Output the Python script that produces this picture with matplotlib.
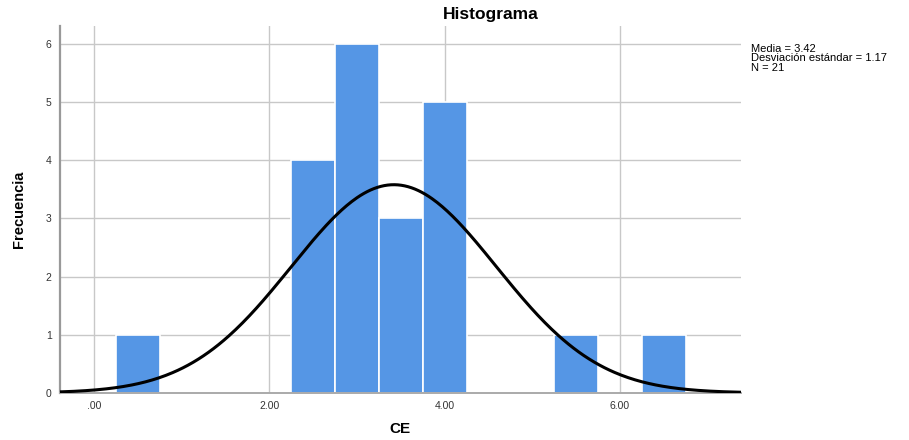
import numpy as np
import matplotlib
matplotlib.use("Agg")
import matplotlib.pyplot as plt

plt.rcParams['font.family'] = ['Liberation Sans', 'DejaVu Sans']

# CE histogram: bin centres (width 0.5) and counts
bin_centers = [0.5, 2.5, 3.0, 3.5, 4.0, 5.5, 6.5]
counts = [1, 4, 6, 3, 5, 1, 1]
bin_width = 0.5

media = 3.42
desv = 1.17
n = 21

x_ticks = [0, 2, 4, 6]
x_labels = ['.00', '2.00', '4.00', '6.00']
y_ticks = [0, 1, 2, 3, 4, 5, 6]

fig = plt.figure(figsize=(9.09, 4.40), dpi=100)
ax = fig.add_axes([0.066, 0.107, 0.749, 0.834])

ax.set_xlim(-0.39, 7.38)
ax.set_ylim(0, 6.31)

ax.set_axisbelow(True)
ax.grid(True, color='#c8c8c8', linewidth=1.0)

ax.bar(bin_centers, counts, width=bin_width, color='#5596e5',
       edgecolor='white', linewidth=1.2, zorder=2)

# normal curve scaled to the counts
xs = np.linspace(-0.39, 7.38, 400)
ys = n * bin_width / (desv * np.sqrt(2 * np.pi)) * np.exp(-0.5 * ((xs - media) / desv) ** 2)
ax.plot(xs, ys, color='black', linewidth=2.2, zorder=3)

ax.set_xticks(x_ticks)
ax.set_xticklabels(x_labels)
ax.set_yticks(y_ticks)
ax.tick_params(length=0, labelsize=7.5, colors='#333333', pad=6)

for side in ['top', 'right']:
    ax.spines[side].set_visible(False)
ax.spines['left'].set_color('#999999')
ax.spines['left'].set_linewidth(1.6)
ax.spines['bottom'].set_color('#aaaaaa')
ax.spines['bottom'].set_linewidth(1.4)

ax.set_xlabel('CE', fontsize=11, fontweight='bold', va='center')
ax.xaxis.set_label_coords(0.499, -0.098)
ax.set_ylabel('Frecuencia', fontsize=10.5, fontweight='bold', va='center')
ax.yaxis.set_label_coords(-0.060, 0.5)

fig.text(0.54, 0.967, 'Histograma', ha='center', va='center',
         fontsize=12.5, fontweight='bold')
fig.text(0.826, 0.900, 'Media = %.2f\nDesviación estándar = %.2f\nN = %d' % (media, desv, n),
         ha='left', va='top', fontsize=8, linespacing=0.92)

fig.savefig('out.png', dpi=100)
